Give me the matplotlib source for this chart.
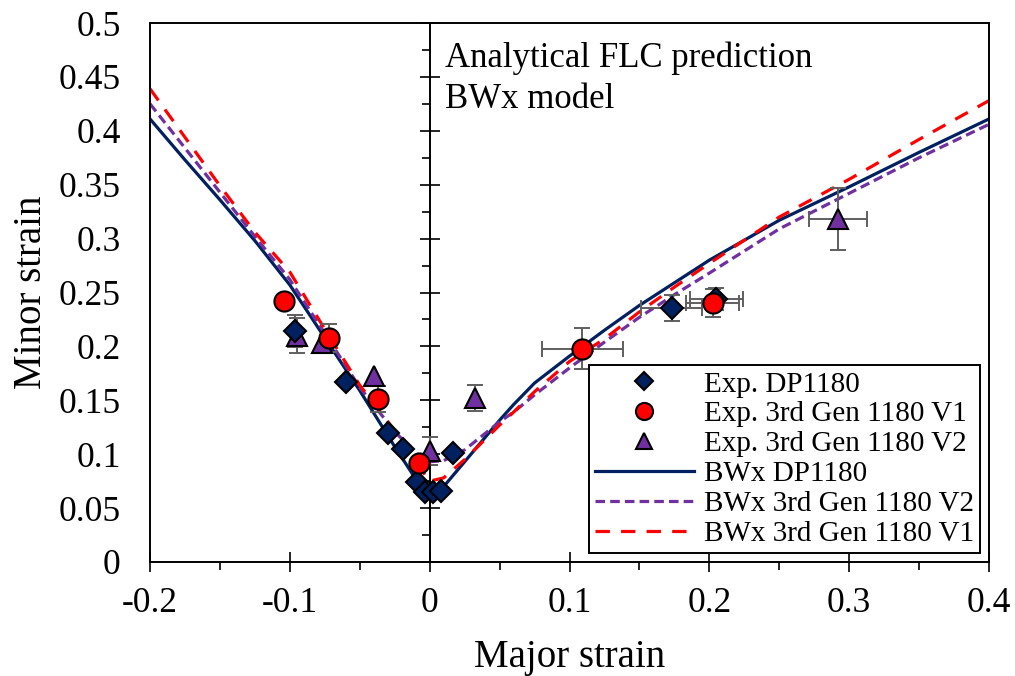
import numpy as np
import matplotlib
matplotlib.use("Agg")
import matplotlib.pyplot as plt

plt.rcParams['font.family'] = ['Liberation Serif', 'DejaVu Serif']

# experimental points (major strain on x here, minor strain on y, as in the picture)
dp_x = [-0.096, -0.060, -0.030, -0.019, -0.009, -0.0033, 0.0026, 0.008, 0.017, 0.173, 0.205]
dp_y = [0.214, 0.167, 0.120, 0.105, 0.074, 0.065, 0.065, 0.066, 0.101, 0.236, 0.244]
dp_xerr = [0, 0, 0, 0, 0, 0, 0, 0, 0, 0.022, 0.019]
dp_yerr = [0.015, 0, 0, 0, 0, 0, 0, 0, 0, 0.012, 0.010]

v1_x = [-0.104, -0.072, -0.037, -0.0076, 0.109, 0.2025]
v1_y = [0.242, 0.208, 0.151, 0.092, 0.198, 0.240]
v1_xerr = [0, 0, 0, 0, 0.029, 0.019]
v1_yerr = [0, 0.013, 0.012, 0, 0.019, 0.013]

v2_x = [-0.095, -0.077, -0.040, 0.0003, 0.0325, 0.292]
v2_y = [0.210, 0.203, 0.173, 0.103, 0.152, 0.318]
v2_xerr = [0, 0, 0, 0, 0, 0.021]
v2_yerr = [0.016, 0, 0, 0.013, 0.012, 0.029]

# BWx model curves
curve_x = [-0.2, -0.175, -0.15, -0.125, -0.1, -0.075, -0.05, -0.025, -0.01, 0.0, 0.01,
           0.025, 0.05, 0.06, 0.075, 0.1, 0.125, 0.15, 0.175, 0.2, 0.25, 0.3, 0.35, 0.4]
bwx_dp = [0.411, 0.373, 0.336, 0.298, 0.257, 0.208, 0.159, 0.107, 0.077, 0.062, 0.070,
          0.093, 0.1315, 0.146, 0.166, 0.191, 0.215, 0.238, 0.259, 0.280, 0.317, 0.348, 0.380, 0.411]
bwx_v2 = [0.425, 0.384, 0.343, 0.302, 0.262, 0.212, 0.162, 0.121, 0.101, 0.093, 0.094,
          0.104, 0.130, 0.139, 0.155, 0.180, 0.204, 0.227, 0.248, 0.268, 0.309, 0.342, 0.375, 0.406]
bwx_v1 = [0.439, 0.394, 0.349, 0.306, 0.269, 0.216, 0.164, 0.122, 0.093, 0.075, 0.078,
          0.095, 0.127, 0.139, 0.158, 0.186, 0.207, 0.232, 0.255, 0.277, 0.320, 0.355, 0.392, 0.428]

navy = '#002060'
purple = '#7030A0'
red = '#FF0000'
grey = '#5f5f5f'

fig = plt.figure(figsize=(10.15, 6.76), dpi=100)
ax = fig.add_axes([150/1015, 1-562/676, 839/1015, 539/676])

l_dp, = ax.plot(curve_x, bwx_dp, color=navy, lw=2.3, zorder=2, label='BWx DP1180')
l_v2, = ax.plot(curve_x, bwx_v2, color=purple, lw=2.3, dashes=(3.0, 1.6), zorder=2.1,
                label='BWx 3rd Gen 1180 V2')
l_v1, = ax.plot(curve_x, bwx_v1, color=red, lw=2.3, dashes=(4.5, 3.5), zorder=2.2,
                label='BWx 3rd Gen 1180 V1')

# error bars
for xs, ys, xe, ye in [(dp_x, dp_y, dp_xerr, dp_yerr),
                       (v1_x, v1_y, v1_xerr, v1_yerr),
                       (v2_x, v2_y, v2_xerr, v2_yerr)]:
    xs = np.array(xs); ys = np.array(ys); xe = np.array(xe); ye = np.array(ye)
    m = xe > 0
    if m.any():
        ax.errorbar(xs[m], ys[m], xerr=xe[m], fmt='none', ecolor=grey, elinewidth=1.4,
                    capsize=6, capthick=1.4, zorder=3)
    m = ye > 0
    if m.any():
        ax.errorbar(xs[m], ys[m], yerr=ye[m], fmt='none', ecolor=grey, elinewidth=1.4,
                    capsize=6, capthick=1.4, zorder=3)

m_v2, = ax.plot(v2_x, v2_y, ls='none', marker='^', ms=14, mfc=purple, mec='black', mew=1.5,
                zorder=4, label='Exp. 3rd Gen 1180 V2')
m_dp, = ax.plot(dp_x, dp_y, ls='none', marker='D', ms=11, mfc=navy, mec='black', mew=1.5,
                zorder=5, label='Exp. DP1180')
m_v1, = ax.plot(v1_x, v1_y, ls='none', marker='o', ms=14.5, mfc=red, mec='black', mew=1.5,
                zorder=6, label='Exp. 3rd Gen 1180 V1')

ax.set_xlim(-0.2, 0.4)
ax.set_ylim(0, 0.5)
ax.set_xticks(np.arange(-0.2, 0.41, 0.1))
ax.set_xticks(np.arange(-0.15, 0.4, 0.1), minor=True)
ax.set_xticklabels(['-0.2', '-0.1', '0', '0.1', '0.2', '0.3', '0.4'])
ax.set_yticks(np.arange(0, 0.51, 0.05))
ax.set_yticklabels(['0', '0.05', '0.1', '0.15', '0.2', '0.25', '0.3', '0.35', '0.4', '0.45', '0.5'])
ax.tick_params(axis='x', which='major', direction='inout', length=14, width=1.2,
               labelsize=25.5, pad=11)
ax.tick_params(axis='x', which='minor', direction='out', length=6, width=1.2)
ax.tick_params(axis='y', which='both', length=0, labelsize=25.5, pad=21)
for s in ax.spines.values():
    s.set_linewidth(1.4)

# vertical axis line through x = 0 with ticks
sec = ax.secondary_yaxis(0.2 / 0.6)
sec.set_yticks(np.arange(0, 0.51, 0.05))
sec.set_yticks(np.arange(0.025, 0.5, 0.05), minor=True)
sec.tick_params(which='major', direction='inout', length=15, width=1.2, labelleft=False)
sec.tick_params(which='minor', direction='out', length=6, width=1.2, labelleft=False)
sec.spines['left'].set_linewidth(1.4)

ax.set_xlabel('Major strain', fontsize=28, labelpad=14)
ax.set_ylabel('Minor strain', fontsize=28, labelpad=6)

ax.text(0.011, 0.483, 'Analytical FLC prediction\nBWx model', fontsize=25,
        va='top', ha='left', linespacing=1.32)

leg = ax.legend(handles=[m_dp, m_v1, m_v2, l_dp, l_v2, l_v1], loc='lower right',
                bbox_to_anchor=(0.9893, 0.0167), borderaxespad=0, fontsize=21,
                frameon=True, fancybox=False, edgecolor='black', framealpha=1,
                handlelength=3.4, labelspacing=0.12, markerscale=0.85,
                borderpad=0.2, handletextpad=0.35)
leg.get_frame().set_linewidth(1.4)

fig.savefig('out.png', dpi=100)
